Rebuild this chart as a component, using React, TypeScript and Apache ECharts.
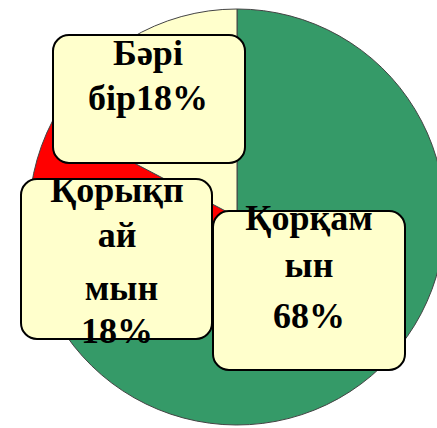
import React, { useEffect, useRef } from "react";
import * as echarts from "echarts";

const categories = ["Қорқамын", "Қорықпаймын", "Бәрі бір"];
const values = [68, 18, 18];
const colors = ["#359a68", "#ff0000", "#ffffcc"];
const labelLines = [
  ["Қорқам", "ын", `${values[0]}%`],
  ["Қорықп", "ай", " мын", `${values[1]}%`],
  ["Бәрі", `бір${values[2]}%`],
];

// layout of the call-out boxes (x, y, w, h) and line centres
const boxes = [
  { x: 213, y: 211, w: 192, h: 159, cx: 309, ys: [218, 265, 316] },
  { x: 21, y: 179, w: 191, h: 160, cx: 117, ys: [190, 235, 288, 331] },
  { x: 53, y: 35, w: 192, h: 128, cx: 148, ys: [53, 98] },
];

export default function App() {
  const ref = useRef<HTMLDivElement>(null);
  useEffect(() => {
    document.body.style.margin = "0";
    const chart = echarts.init(ref.current!, null, { renderer: "svg" });
    const graphics: any[] = [];
    [2, 1, 0].forEach((i, k) => {
      const b = boxes[i];
      graphics.push({
        type: "rect",
        z: 10 + k * 2,
        shape: { x: b.x, y: b.y, width: b.w, height: b.h, r: 16 },
        style: { fill: "#ffffcc", stroke: "#000", lineWidth: 2 },
      });
      labelLines[i].forEach((t, j) => {
        graphics.push({
          type: "text",
          z: 11 + k * 2,
          x: b.cx,
          y: b.ys[j],
          style: {
            text: t,
            fill: "#000",
            font: "bold 36px 'Times New Roman', 'Liberation Serif', serif",
            align: "center",
            verticalAlign: "middle",
          },
        });
      });
    });
    chart.setOption({
      animation: false,
      backgroundColor: "#fff",
      series: [
        {
          type: "pie",
          center: [237, 217],
          radius: 208,
          startAngle: 90,
          clockwise: true,
          label: { show: false },
          labelLine: { show: false },
          itemStyle: { borderColor: "#444", borderWidth: 1 },
          emphasis: { disabled: true },
          data: categories.map((name, i) => ({
            name,
            value: values[i],
            itemStyle: { color: colors[i] },
          })),
        },
      ],
      graphic: graphics,
    });
    return () => chart.dispose();
  }, []);
  return (
    <div
      ref={ref}
      style={{ position: "fixed", left: 0, top: 0, width: 437, height: 428 }}
    />
  );
}
